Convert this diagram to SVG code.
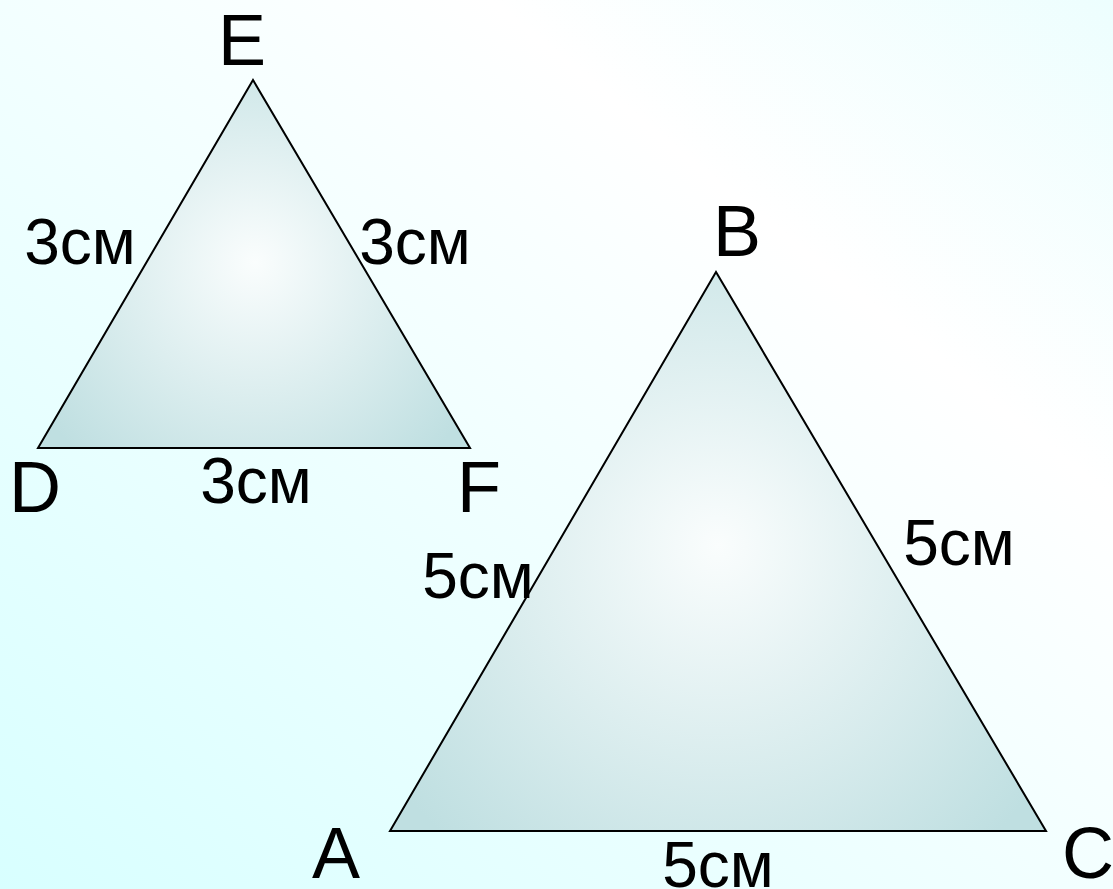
<svg xmlns="http://www.w3.org/2000/svg" width="1113" height="889" viewBox="0 0 1113 889">
<style>
text{font-family:"Liberation Sans",Arial,sans-serif;fill:#000}
.v{font-size:72px}
.l{font-size:64px}
.tri{stroke:#000;stroke-width:2;stroke-linejoin:miter}
</style>
<defs>
<linearGradient id="bg" x1="0" y1="1" x2="1" y2="0">
<stop offset="0" stop-color="#D8FFFF"/>
<stop offset="0.72" stop-color="#FFFFFF"/>
<stop offset="1" stop-color="#EDFEFE"/>
</linearGradient>
<radialGradient id="g1" cx="255" cy="262" r="260" gradientUnits="userSpaceOnUse">
<stop offset="0" stop-color="#FAFDFD"/>
<stop offset="1" stop-color="#BFDFE1"/>
</radialGradient>
<radialGradient id="g2" cx="718" cy="545" r="400" gradientUnits="userSpaceOnUse">
<stop offset="0" stop-color="#FAFDFD"/>
<stop offset="1" stop-color="#BFDFE1"/>
</radialGradient>
</defs>
<rect width="1113" height="889" fill="url(#bg)"/>
<g id="triangle-DEF">
<polygon class="tri" points="253,80 38,448 470,448" fill="url(#g1)"/>
<text class="v" x="242" y="65" text-anchor="middle">E</text>
<text class="v" x="35" y="512" text-anchor="middle">D</text>
<text class="v" x="479" y="512" text-anchor="middle">F</text>
<text class="l" x="80" y="264" text-anchor="middle">3см</text>
<text class="l" x="415" y="264" text-anchor="middle">3см</text>
<text class="l" x="256" y="503" text-anchor="middle">3см</text>
</g>
<g id="triangle-ABC">
<polygon class="tri" points="716,272 390,831 1046,831" fill="url(#g2)"/>
<text class="v" x="737" y="256" text-anchor="middle">B</text>
<text class="v" x="336" y="878" text-anchor="middle">A</text>
<text class="v" x="1088" y="878" text-anchor="middle">C</text>
<text class="l" x="478" y="598" text-anchor="middle">5см</text>
<text class="l" x="959" y="565" text-anchor="middle">5см</text>
<text class="l" x="718" y="887" text-anchor="middle">5см</text>
</g>
<g id="connectors"/>
</svg>
